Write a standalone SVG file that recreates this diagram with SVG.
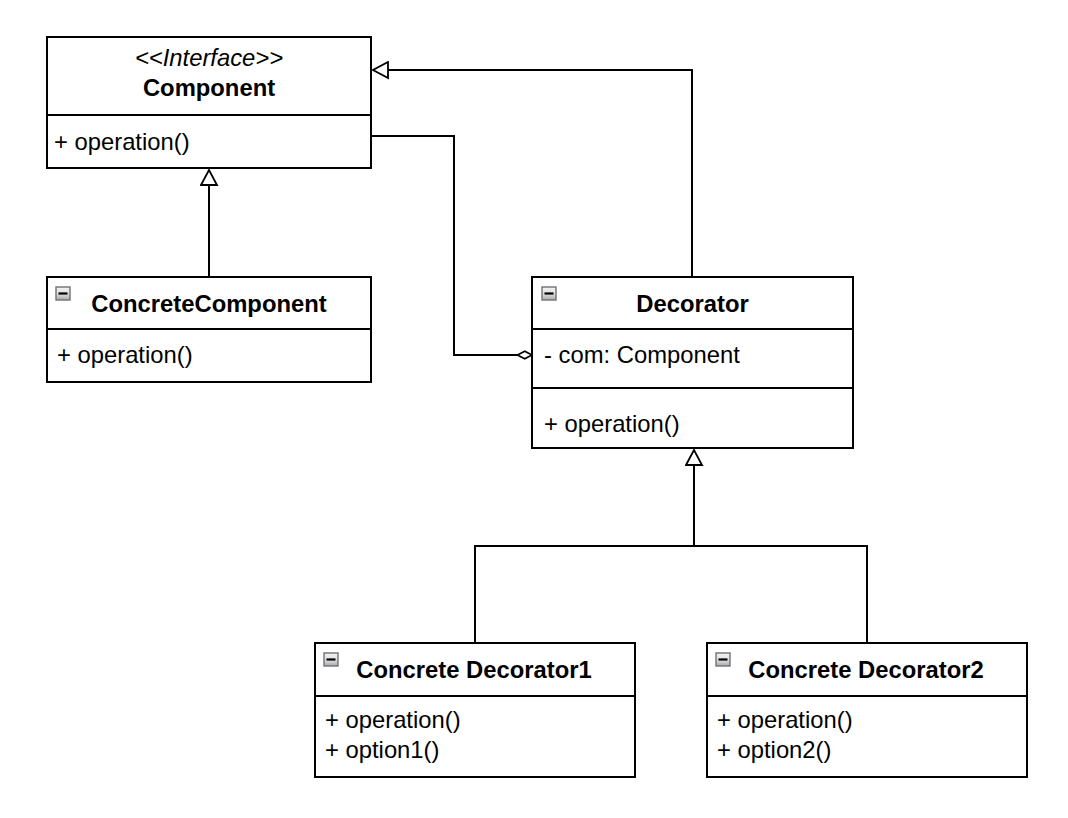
<svg xmlns="http://www.w3.org/2000/svg" width="1068" height="818" viewBox="0 0 1068 818">
  <style>
    .box { fill: #ffffff; stroke: #000000; stroke-width: 2; }
    .sep { stroke: #000000; stroke-width: 2; }
    .txt { font-family: "Liberation Sans", Arial, Helvetica, sans-serif; font-size: 23.8px; fill: #000000; }
    .title { font-weight: bold; text-anchor: middle; }
    .stereo { font-style: italic; text-anchor: middle; }
    .edge { fill: none; stroke: #000000; stroke-width: 2; }
    .icon { fill: url(#iconGrad); stroke: #6f6f78; stroke-width: 1.4; }
    .iconbar { stroke: #000000; stroke-width: 2.2; }
  </style>
  <defs>
    <linearGradient id="iconGrad" x1="0" y1="0" x2="0" y2="1">
      <stop offset="0" stop-color="#f4f4f4"/>
      <stop offset="0.55" stop-color="#dcdcdc"/>
      <stop offset="1" stop-color="#a9a9ad"/>
    </linearGradient>
    <marker id="inherit" viewBox="0 0 18 19" refX="16.5" refY="9.5" markerWidth="18" markerHeight="19" markerUnits="userSpaceOnUse" orient="auto">
      <path d="M1.5,1.5 L16.5,9.5 L1.5,17.5 Z" fill="#ffffff" stroke="#000000" stroke-width="1.8"/>
    </marker>
    <marker id="aggr" viewBox="0 0 17 10" refX="15.5" refY="5" markerWidth="17" markerHeight="10" markerUnits="userSpaceOnUse" orient="auto">
      <path d="M1,5 L8.25,1.2 L15.5,5 L8.25,8.8 Z" fill="#ffffff" stroke="#000000" stroke-width="1.6"/>
    </marker>
  </defs>
  <rect width="1068" height="818" fill="#ffffff"/>

  <g id="connectors">
    <path class="edge" d="M209,277 L209,170" marker-end="url(#inherit)"/>
    <path class="edge" d="M692,277 L692,70 L373,70" marker-end="url(#inherit)"/>
    <path class="edge" d="M371,136 L454,136 L454,355 L532,355" marker-end="url(#aggr)"/>
    <path class="edge" d="M475,643 L475,546 L867,546 L867,643"/>
    <path class="edge" d="M694,546 L694,450" marker-end="url(#inherit)"/>
  </g>

  <g id="Component">
    <rect class="box" x="47" y="37" width="324" height="131"/>
    <line class="sep" x1="47" y1="115" x2="371" y2="115"/>
    <text class="txt stereo" x="209" y="66">&lt;&lt;Interface&gt;&gt;</text>
    <text class="txt title" x="209" y="96">Component</text>
    <text class="txt" x="54" y="150">+ operation()</text>
  </g>

  <g id="ConcreteComponent">
    <rect class="box" x="47" y="277" width="324" height="105"/>
    <line class="sep" x1="47" y1="329" x2="371" y2="329"/>
    <rect class="icon" x="56" y="287" width="14" height="13"/>
    <line class="iconbar" x1="58.5" y1="293.5" x2="67.5" y2="293.5"/>
    <text class="txt title" x="209" y="312">ConcreteComponent</text>
    <text class="txt" x="57" y="363">+ operation()</text>
  </g>

  <g id="Decorator">
    <rect class="box" x="532" y="277" width="321" height="171"/>
    <line class="sep" x1="532" y1="329" x2="853" y2="329"/>
    <line class="sep" x1="532" y1="388" x2="853" y2="388"/>
    <rect class="icon" x="542" y="287" width="14" height="13"/>
    <line class="iconbar" x1="544.5" y1="293.5" x2="553.5" y2="293.5"/>
    <text class="txt title" x="692.5" y="312">Decorator</text>
    <text class="txt" x="544" y="363">- com: Component</text>
    <text class="txt" x="544" y="432">+ operation()</text>
  </g>

  <g id="ConcreteDecorator1">
    <rect class="box" x="315" y="643" width="320" height="134"/>
    <line class="sep" x1="315" y1="696" x2="635" y2="696"/>
    <rect class="icon" x="324" y="653" width="14" height="13"/>
    <line class="iconbar" x1="326.5" y1="659.5" x2="335.5" y2="659.5"/>
    <text class="txt title" x="474" y="678">Concrete Decorator1</text>
    <text class="txt" x="325" y="728">+ operation()</text>
    <text class="txt" x="325" y="758">+ option1()</text>
  </g>

  <g id="ConcreteDecorator2">
    <rect class="box" x="707" y="643" width="320" height="134"/>
    <line class="sep" x1="707" y1="696" x2="1027" y2="696"/>
    <rect class="icon" x="716" y="653" width="14" height="13"/>
    <line class="iconbar" x1="718.5" y1="659.5" x2="727.5" y2="659.5"/>
    <text class="txt title" x="866" y="678">Concrete Decorator2</text>
    <text class="txt" x="717" y="728">+ operation()</text>
    <text class="txt" x="717" y="758">+ option2()</text>
  </g>
</svg>
